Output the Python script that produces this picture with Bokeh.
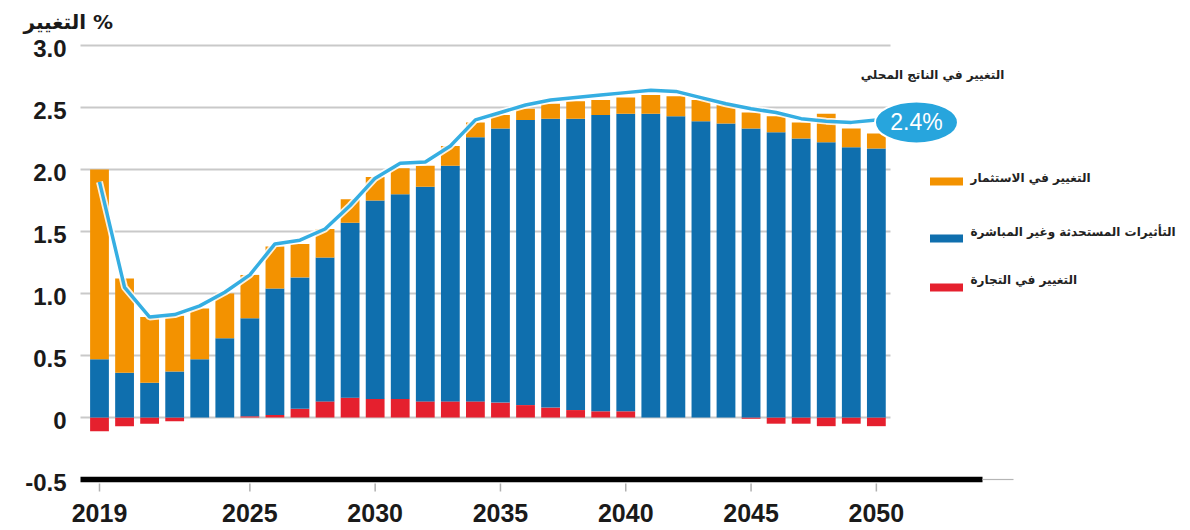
from bokeh.plotting import figure
from bokeh.models import Range1d, ColumnDataSource
from bokeh.core.properties import value
from bokeh.embed import file_html
from bokeh.resources import INLINE

# Contributions to GDP change (%), by year
years = list(range(2019, 2051))
trade = [-0.11, -0.07, -0.05, -0.03, 0.00, 0.00, 0.01, 0.02, 0.07, 0.13, 0.16,
         0.15, 0.15, 0.13, 0.13, 0.13, 0.12, 0.10, 0.08, 0.06, 0.05, 0.05,
         0.00, 0.00, 0.00, 0.00, -0.01, -0.05, -0.05, -0.07, -0.05, -0.07]
induced = [0.47, 0.36, 0.28, 0.37, 0.47, 0.64, 0.79, 1.02, 1.06, 1.16, 1.41,
           1.60, 1.65, 1.73, 1.90, 2.13, 2.21, 2.30, 2.33, 2.35, 2.39, 2.40,
           2.45, 2.43, 2.39, 2.37, 2.33, 2.30, 2.25, 2.22, 2.18, 2.17]
investment = [1.53, 0.76, 0.53, 0.45, 0.41, 0.36, 0.35, 0.34, 0.27, 0.23, 0.19,
              0.19, 0.21, 0.17, 0.16, 0.12, 0.11, 0.09, 0.12, 0.14, 0.12, 0.13,
              0.15, 0.16, 0.17, 0.15, 0.13, 0.13, 0.13, 0.23, 0.15, 0.12]
gdp = [1.90, 1.05, 0.81, 0.83, 0.90, 1.01, 1.15, 1.40, 1.43, 1.52, 1.71,
       1.93, 2.05, 2.06, 2.19, 2.40, 2.46, 2.52, 2.56, 2.58, 2.60, 2.62,
       2.64, 2.63, 2.58, 2.53, 2.49, 2.46, 2.41, 2.39, 2.38, 2.40]

y_ticks = [-0.5, 0, 0.5, 1.0, 1.5, 2.0, 2.5, 3.0]
y_tick_labels = ["-0.5", "0", "0.5", "1.0", "1.5", "2.0", "2.5", "3.0"]
x_ticks = [2019, 2025, 2030, 2035, 2040, 2045, 2050]
x_tick_labels = ["2019", "2025", "2030", "2035", "2040", "2045", "2050"]

title_text = "التغيير %"
gdp_text = "التغيير في الناتج المحلي"
legend_labels = [
    "التغيير في الاستثمار",
    "التأثيرات المستحدثة وغير المباشرة",
    "التغيير في التجارة",
]

ORANGE, BLUE, RED = "#f39200", "#0f6fae", "#e5202e"
LINE = "#35aee2"
legend_colors = [ORANGE, BLUE, RED]

# stacked segment bounds
red_bottom = [min(t, 0) for t in trade]
red_top = [max(t, 0) for t in trade]
blue_bottom = red_top
blue_top = [b + i for b, i in zip(blue_bottom, induced)]
orange_bottom = blue_top
orange_top = [b + v for b, v in zip(orange_bottom, investment)]

src = ColumnDataSource(dict(
    x=years, rb=red_bottom, rt=red_top, bb=blue_bottom, bt=blue_top,
    ob=orange_bottom, ot=orange_top, gdp=gdp,
))

# page layout: one year = PPY px (first bar centred at 99 px),
# one percentage point = PPU px (zero line at 417 px from the top)
PPY, PPU = 25.06, 124.0


def X(px):
    return 2019 + (px - 99) / PPY


def Y(py):
    return (417 - py) / PPU


p = figure(width=1190, height=530, output_backend="svg", toolbar_location=None,
           x_range=Range1d(X(0), X(1190)), y_range=Range1d(Y(530), Y(0)),
           min_border_left=0, min_border_right=0, min_border_top=0,
           min_border_bottom=0)
p.outline_line_color = None
p.xgrid.visible = False
p.ygrid.visible = False
p.xaxis.visible = False
p.yaxis.visible = False
p.background_fill_color = "white"
p.border_fill_color = "white"

# horizontal gridlines
grid_levels = [v for v in y_ticks if v >= 0]
p.multi_line(xs=[[X(80), X(890)] for _ in grid_levels],
             ys=[[v, v] for v in grid_levels],
             line_color="#c9c9c9", line_width=2)

bw = 0.75
p.vbar(x="x", bottom="rb", top="rt", width=bw, source=src,
       fill_color=RED, line_color=None)
p.vbar(x="x", bottom="bb", top="bt", width=bw, source=src,
       fill_color=BLUE, line_color=None)
p.vbar(x="x", bottom="ob", top="ot", width=bw, source=src,
       fill_color=ORANGE, line_color=None)

# GDP change line with a soft white halo
p.line(x="x", y="gdp", source=src, line_color="white", line_width=7,
       line_alpha=0.85)
p.line(x="x", y="gdp", source=src, line_color=LINE, line_width=3.5)

# baseline at the bottom of the chart, with year ticks below it
base = y_ticks[0]
p.segment(x0=[X(80)], y0=[base], x1=[X(982)], y1=[base],
          line_color="black", line_width=5.5)
p.segment(x0=[X(982)], y0=[base], x1=[X(1013)], y1=[base],
          line_color="#b5b5b5", line_width=1.2)
p.segment(x0=x_ticks, y0=[Y(483)] * len(x_ticks), x1=x_ticks,
          y1=[Y(491)] * len(x_ticks), line_color="#b0b0b0", line_width=1.5)
p.text(x=x_ticks, y=[Y(512)] * len(x_ticks), text=x_tick_labels,
       text_font=value("Liberation Sans"), text_font_style="bold",
       text_font_size="25px", text_color="#1a1a1a",
       text_align="center", text_baseline="middle")

# value labels of the vertical scale
p.text(x=[X(66)] * len(y_ticks), y=[v - 0.025 for v in y_ticks],
       text=y_tick_labels, text_font=value("Liberation Sans"),
       text_font_style="bold", text_font_size="24px", text_color="#1a1a1a",
       text_align="right", text_baseline="middle")

# axis title
p.text(x=[X(23)], y=[Y(21)], text=[title_text], text_font=value("DejaVu Sans"),
       text_font_style="bold", text_font_size="20px", text_color="#1a1a1a",
       text_align="left", text_baseline="middle")

# GDP annotation and end-value bubble
p.text(x=[X(932)], y=[Y(74)], text=[gdp_text],
       text_font=value("DejaVu Sans"), text_font_style="bold",
       text_font_size="12px", text_color="#222222",
       text_align="center", text_baseline="middle")
bx = years[-1] + 1.6
p.ellipse(x=[bx], y=[gdp[-1] - 0.02], width=83, height=42,
          width_units="screen", height_units="screen",
          fill_color="#27a5dd", line_color="white", line_width=2)
p.text(x=[bx], y=[gdp[-1] - 0.02], text=[f"{gdp[-1]:.1f}%"],
       text_font=value("Liberation Sans"), text_font_size="23px",
       text_color="white", text_align="center", text_baseline="middle")

# legend: swatch on the left, Arabic label on its right
sw_y = [Y(181), Y(238), Y(287)]
txt_y = [Y(177), Y(231), Y(279)]
p.rect(x=[X(946)] * 3, y=sw_y, width=33, height=8, width_units="screen",
       height_units="screen", fill_color=legend_colors, line_color=None)
p.text(x=[X(970)] * 3, y=txt_y, text=legend_labels,
       text_font=value("DejaVu Sans"), text_font_style="bold",
       text_font_size="12px", text_color="#222222",
       text_align="left", text_baseline="middle")

open("out.html", "w").write(file_html(p, INLINE))
